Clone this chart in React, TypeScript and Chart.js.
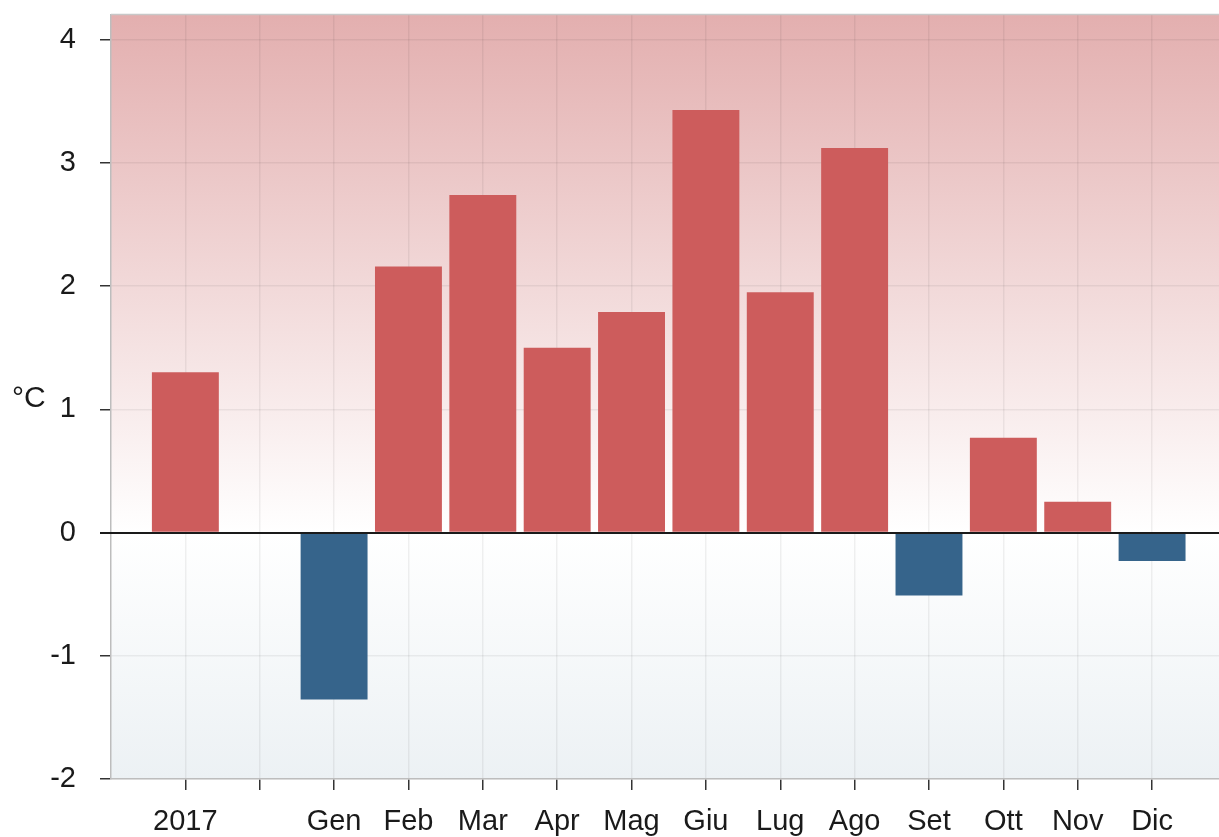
import React, { useEffect, useRef } from "react";
import { Chart, registerables } from "chart.js";

Chart.register(...registerables);

const categories = ["2017", "", "Gen", "Feb", "Mar", "Apr", "Mag", "Giu", "Lug", "Ago", "Set", "Ott", "Nov", "Dic"];
const anomalies: (number | null)[] = [1.3, null, -1.355, 2.16, 2.74, 1.5, 1.79, 3.43, 1.95, 3.12, -0.51, 0.77, 0.25, -0.23];
const yTicks = [-2, -1, 0, 1, 2, 3, 4];
const yUnit = "°C";

const RED = "#cd5c5c";
const BLUE = "#36648b";
const FONT = "'Liberation Sans', Arial, Helvetica, sans-serif";

export default function App() {
  const ref = useRef<HTMLCanvasElement | null>(null);

  useEffect(() => {
    document.body.style.margin = "0";
    const canvas = ref.current;
    if (!canvas) return;

    const points = categories
      .map((c, i) => ({ x: i, y: anomalies[i] }))
      .filter((p) => p.y !== null) as { x: number; y: number }[];

    const bgPlugin = {
      id: "bgGradient",
      beforeDraw(chart: any) {
        const { ctx, chartArea, scales } = chart;
        ctx.save();
        ctx.fillStyle = "#ffffff";
        ctx.fillRect(0, 0, chart.width, chart.height);
        const y0 = scales.y.getPixelForValue(0);
        const gTop = ctx.createLinearGradient(0, chartArea.top, 0, y0);
        gTop.addColorStop(0, "rgb(227,175,175)");
        gTop.addColorStop(1, "rgb(255,255,255)");
        ctx.fillStyle = gTop;
        ctx.fillRect(chartArea.left, chartArea.top, chartArea.right - chartArea.left, y0 - chartArea.top);
        const gBot = ctx.createLinearGradient(0, y0, 0, chartArea.bottom);
        gBot.addColorStop(0, "rgb(255,255,255)");
        gBot.addColorStop(1, "rgb(236,241,244)");
        ctx.fillStyle = gBot;
        ctx.fillRect(chartArea.left, y0, chartArea.right - chartArea.left, chartArea.bottom - y0);
        ctx.restore();
      },
      afterDatasetsDraw(chart: any) {
        const { ctx, chartArea, scales } = chart;
        const y0 = Math.round(scales.y.getPixelForValue(0));
        ctx.save();
        ctx.strokeStyle = "#1a1a1a";
        ctx.lineWidth = 2;
        ctx.beginPath();
        ctx.moveTo(chartArea.left - 11, y0);
        ctx.lineTo(chartArea.right, y0);
        ctx.stroke();
        // top border
        ctx.strokeStyle = "#c8c8c8";
        ctx.lineWidth = 1.5;
        ctx.beginPath();
        ctx.moveTo(chartArea.left, chartArea.top - 0.5);
        ctx.lineTo(chartArea.right, chartArea.top - 0.5);
        ctx.stroke();
        // unit label
        ctx.fillStyle = "#1a1a1a";
        ctx.font = `30px ${FONT}`;
        ctx.textAlign = "left";
        ctx.textBaseline = "middle";
        ctx.fillText(yUnit, 12, (chartArea.top + chartArea.bottom) / 2 + 2);
        ctx.restore();
      },
    };

    const chart = new Chart(canvas, {
      type: "bar",
      data: {
        datasets: [
          {
            data: points,
            backgroundColor: points.map((p) => (p.y >= 0 ? RED : BLUE)),
            borderWidth: 0,
            categoryPercentage: 1,
            barPercentage: 0.9,
          },
        ],
      },
      options: {
        responsive: false,
        animation: false,
        layout: { padding: { top: 15, right: 0, left: 0, bottom: 0 } },
        plugins: { legend: { display: false }, tooltip: { enabled: false } },
        scales: {
          x: {
            type: "linear",
            offset: false,
            min: -1,
            max: 13.9,
            afterBuildTicks(scale: any) {
              scale.ticks = categories.map((_, i) => ({ value: i }));
            },
            afterFit(scale: any) {
              scale.height = 58;
              scale.paddingLeft = 0;
              scale.paddingRight = 0;
            },
            ticks: {
              autoSkip: false,
              maxRotation: 0,
              padding: 15,
              color: "#1a1a1a",
              font: { family: FONT, size: 29 },
              callback: (v: any) => categories[Math.round(Number(v))] ?? "",
            },
            grid: {
              offset: false,
              color: "rgba(0,0,0,0.06)",
              tickColor: "#333333",
              tickLength: 11,
              lineWidth: 1.5,
            },
            border: { color: "#bdbdbd", width: 1.5 },
          },
          y: {
            type: "linear",
            min: -2,
            max: 4.2,
            afterBuildTicks(scale: any) {
              scale.ticks = yTicks.map((v) => ({ value: v }));
            },
            afterFit(scale: any) {
              scale.width = 111;
              scale.paddingTop = 0;
              scale.paddingBottom = 0;
            },
            ticks: {
              padding: 24,
              color: "#1a1a1a",
              font: { family: FONT, size: 29 },
              callback: (v: any) => String(v),
            },
            grid: {
              color: "rgba(0,0,0,0.06)",
              tickColor: "#333333",
              tickLength: 11,
              lineWidth: 1.5,
            },
            border: { color: "#bdbdbd", width: 1.5 },
          },
        },
      },
      plugins: [bgPlugin],
    } as any);

    return () => chart.destroy();
  }, []);

  return <canvas ref={ref} width={1219} height={837} style={{ display: "block" }} />;
}
